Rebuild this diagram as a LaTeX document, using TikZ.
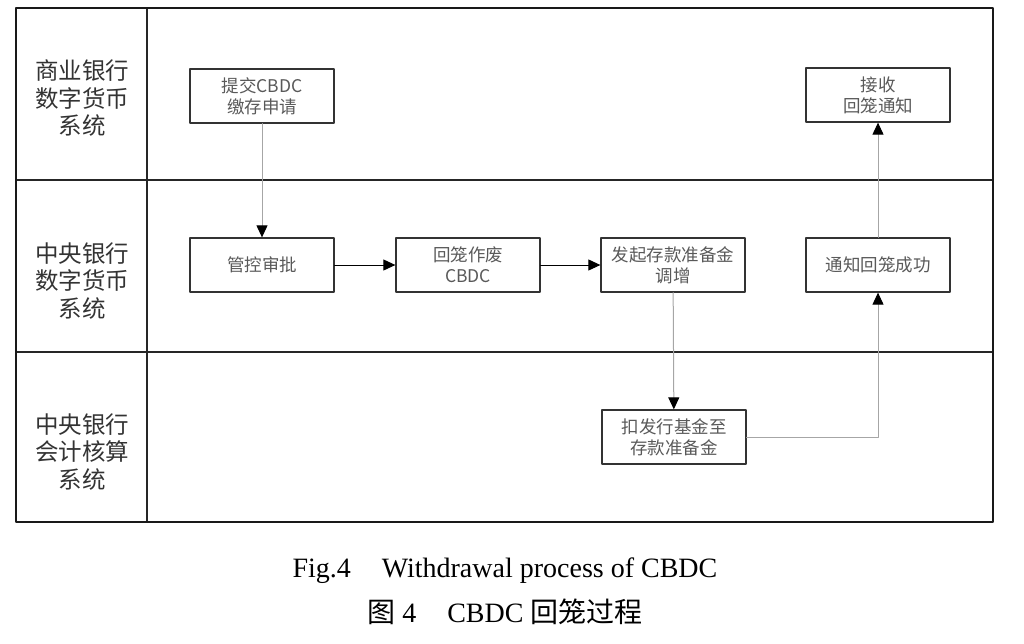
\documentclass[tikz,border=0pt]{standalone}
\usepackage{fontspec}
\setmainfont{Liberation Serif}
\newfontfamily\cjk{Noto Sans CJK SC}
\usetikzlibrary{arrows.meta}

\tikzset{
  procbox/.style={draw=black!80, line width=1.3pt, minimum width=144pt, minimum height=54pt,
    inner sep=0pt, align=center, text=black!65, font=\cjk\fontsize{17.5}{21}\selectfont},
  lanelabel/.style={align=center, text=black!80, font=\cjk\fontsize{23.5}{27.5}\selectfont},
  flow/.style={draw=black!35, line width=1pt, -{Triangle[length=12pt,width=11pt,color=black]}},
  flowdark/.style={draw=black, line width=1pt, -{Triangle[length=12pt,width=11pt]}},
}

\begin{document}
\begin{tikzpicture}[x=1pt, y=-1pt, line cap=round, line join=round]
	\useasboundingbox (0,0) rectangle (1024,643);

	%Swimlanes
	\draw[black!85, line width=1.2pt] (147,8) -- (147,522);
	\draw[black!85, line width=1.2pt] (16,180) -- (993,180);
	\draw[black!85, line width=1.2pt] (16,352) -- (993,352);
	\draw[black!90, line width=2pt] (16,8) rectangle (993,522);

	%Lane labels
	\node[lanelabel] (laneA) at (82,98)  {商业银行\\数字货币\\系统};
	\node[lanelabel] (laneB) at (82,281) {中央银行\\数字货币\\系统};
	\node[lanelabel] (laneC) at (82,452) {中央银行\\会计核算\\系统};

	%Steps
	\node[procbox] (submit)  at (262,96)  {提交CBDC\\缴存申请};
	\node[procbox] (approve) at (262,265) {管控审批};
	\node[procbox] (cancel)  at (468,265) {回笼作废\\CBDC};
	\node[procbox] (raise)   at (673,265) {发起存款准备金\\调增};
	\node[procbox] (deduct)  at (674,437) {扣发行基金至\\存款准备金};
	\node[procbox] (notify)  at (878,265) {通知回笼成功};
	\node[procbox] (receive) at (878,95)  {接收\\回笼通知};

	%Flow
	\draw[flow] (submit) -- (approve);
	\draw[flowdark] (approve) -- (cancel);
	\draw[flowdark] (cancel) -- (raise);
	\draw[flow] (raise) -- (deduct);
	\draw[flow] (deduct.east) -| (notify.south);
	\draw[flow] (notify) -- (receive);

	%Caption
	\node[font=\fontsize{28}{32}\selectfont] (capen) at (505,571) {Fig.4\hspace{1.1em}Withdrawal process of CBDC};
	\node[font=\fontsize{28}{32}\selectfont] (capzh) at (505,612) {{\cjk 图} 4\hspace{1.1em}CBDC {\cjk 回笼过程}};
\end{tikzpicture}
\end{document}
